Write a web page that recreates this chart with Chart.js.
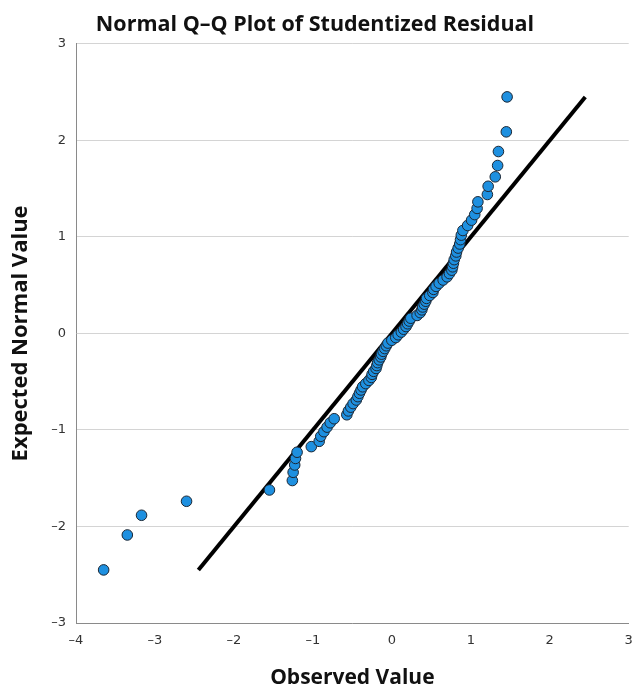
<!DOCTYPE html>
<html>
<head>
<meta charset="utf-8">
<script src="https://cdn.jsdelivr.net/npm/chart.js@4.4.0/dist/chart.umd.min.js"></script>
<style>
html,body{margin:0;padding:0;background:#fff;}
#wrap{width:635px;height:688px;position:relative;}
</style>
</head>
<body>
<div id="wrap"><canvas id="c" width="635" height="688"></canvas></div>
<script>
// Observed (studentized residual) values
const observedValues = [
 -3.65,-3.35,-3.17,-2.60,-1.55,-1.26,-1.25,-1.23,-1.22,-1.20,
 -1.02,-0.92,-0.90,-0.86,-0.82,-0.78,-0.73,-0.57,-0.55,-0.52,
 -0.49,-0.45,-0.43,-0.41,-0.39,-0.37,-0.33,-0.29,-0.26,-0.25,
 -0.23,-0.20,-0.19,-0.18,-0.16,-0.14,-0.13,-0.11,-0.09,-0.07,
 -0.05,0.00,0.05,0.08,0.12,0.15,0.18,0.20,0.22,0.24,
 0.32,0.36,0.38,0.39,0.41,0.43,0.44,0.48,0.52,0.53,
 0.56,0.60,0.65,0.70,0.73,0.76,0.77,0.78,0.79,0.81,
 0.82,0.84,0.86,0.87,0.88,0.90,0.96,1.01,1.05,1.08,
 1.09,1.21,1.22,1.31,1.34,1.35,1.45,1.46
];
// Expected normal values
const expectedValues = [
 -2.450,-2.088,-1.884,-1.739,-1.622,-1.524,-1.439,-1.363,-1.295,-1.231,
 -1.173,-1.118,-1.066,-1.018,-0.971,-0.926,-0.884,-0.843,-0.803,-0.764,
 -0.727,-0.690,-0.655,-0.620,-0.586,-0.553,-0.520,-0.487,-0.456,-0.424,
 -0.393,-0.363,-0.333,-0.303,-0.274,-0.244,-0.215,-0.186,-0.157,-0.128,
 -0.100,-0.071,-0.043,-0.014,0.014,0.043,0.071,0.100,0.128,0.157,
 0.186,0.215,0.244,0.274,0.303,0.333,0.363,0.393,0.424,0.456,
 0.487,0.520,0.553,0.586,0.620,0.655,0.690,0.727,0.764,0.803,
 0.843,0.884,0.926,0.971,1.018,1.066,1.118,1.173,1.231,1.295,
 1.363,1.439,1.524,1.622,1.739,1.884,2.088,2.450
];
// Reference line endpoints
const refLineX = [-2.45, 2.45];
const refLineY = [-2.45, 2.45];
// Axis tick values
const xTicks = [-4,-3,-2,-1,0,1,2,3];
const yTicks = [-3,-2,-1,0,1,2,3];

const pts = observedValues.map((v,i)=>({x:v,y:expectedValues[i]}));
const linePts = refLineX.map((v,i)=>({x:v,y:refLineY[i]}));
const fmt = v => String(v).replace('-', '\u2013');

new Chart(document.getElementById('c'), {
  type: 'scatter',
  data: {
    datasets: [
      {
        label: 'Residual',
        data: pts,
        pointRadius: 5.3,
        pointHoverRadius: 5.3,
        pointBackgroundColor: '#1e90e0',
        pointBorderColor: '#1b2633',
        pointBorderWidth: 1,
        showLine: false,
        order: 1
      },
      {
        type: 'line',
        label: 'Reference',
        data: linePts,
        borderColor: '#000',
        borderWidth: 4,
        pointRadius: 0,
        fill: false,
        order: 2
      }
    ]
  },
  options: {
    responsive: false,
    animation: false,
    devicePixelRatio: 1,
    layout: { padding: { left: 0, right: 5, top: 0, bottom: 0 } },
    plugins: {
      legend: { display: false },
      tooltip: { enabled: false },
      title: {
        display: true,
        text: 'Normal Q\u2013Q Plot of Studentized Residual',
        color: '#111',
        font: { family: 'Open Sans', size: 21.5, weight: 'bold', lineHeight: 1.2 },
        padding: { top: 12, bottom: 6 }
      }
    },
    scales: {
      x: {
        type: 'linear',
        min: -4, max: 3,
        afterBuildTicks: s => { s.ticks = xTicks.map(v => ({value: v})); },
        afterFit: s => { s.height = 65; s.paddingRight = 0; s.paddingLeft = 0; },
        grid: { drawOnChartArea: false, drawTicks: false },
        border: { display: true, color: '#8a8a8a', width: 1 },
        ticks: {
          callback: v => fmt(v),
          color: '#333',
          font: { family: 'DejaVu Sans', size: 13 },
          padding: 10,
          maxRotation: 0
        },
        title: {
          display: true,
          text: 'Observed Value',
          color: '#111',
          font: { family: 'Open Sans', size: 21, weight: 'bold', lineHeight: 0.95 },
          padding: { top: 14, bottom: 0 }
        }
      },
      y: {
        type: 'linear',
        min: -3, max: 3,
        afterBuildTicks: s => { s.ticks = yTicks.map(v => ({value: v})); },
        afterFit: s => { s.width = 76; s.paddingTop = 0; s.paddingBottom = 0; },
        grid: { color: '#d4d4d4', lineWidth: 1, drawTicks: false },
        border: { display: true, color: '#8a8a8a', width: 1 },
        ticks: {
          callback: v => fmt(v),
          color: '#333',
          font: { family: 'DejaVu Sans', size: 13 },
          padding: 10
        },
        title: {
          display: true,
          text: 'Expected Normal Value',
          color: '#111',
          font: { family: 'Open Sans', size: 22, weight: 'bold' },
          padding: { top: 8, bottom: 6 }
        }
      }
    }
  }
});
</script>
</body>
</html>
